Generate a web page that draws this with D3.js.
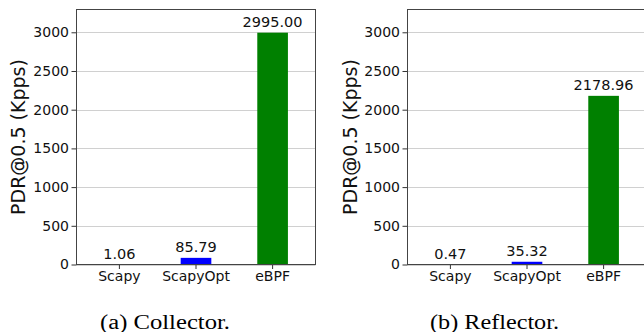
<!DOCTYPE html>
<html>
<head>
<meta charset="utf-8">
<script src="https://cdn.jsdelivr.net/npm/d3@7"></script>
<style>
  html, body { margin: 0; padding: 0; background: #fff; }
  svg { display: block; }
</style>
</head>
<body>
<svg id="chart" width="644" height="332"></svg>
<script>
const categories = ["Scapy", "ScapyOpt", "eBPF"];
const collectorValues = [1.06, 85.79, 2995.00];
const reflectorValues = [0.47, 35.32, 2178.96];
const collectorLabels = ["1.06", "85.79", "2995.00"];
const reflectorLabels = ["0.47", "35.32", "2178.96"];
const barColors = ["#0000ff", "#0000ff", "#008000"];
const yTicks = [0, 500, 1000, 1500, 2000, 2500, 3000];
const yMax = 3294.5;
const yLabel = "PDR@0.5 (Kpps)";
const captions = ["(a) Collector.", "(b) Reflector."];

(function () {
const svg = d3.select("#chart");
const FONT = "DejaVu Sans, sans-serif";

const panels = [
  { values: collectorValues, labels: collectorLabels, x0: 76.5, caption: captions[0], capX: 165, capW: 130, labX: 25 },
  { values: reflectorValues, labels: reflectorLabels, x0: 407.5, caption: captions[1], capX: 494.5, capW: 129, labX: 357 }
];
const W = 239, plotTop = 9.5, plotBottom = 264.5;

panels.forEach(p => {
  const g = svg.append("g");
  const x = d3.scaleBand().domain(categories).range([p.x0, p.x0 + W]).paddingInner(0.6).paddingOuter(0.36);
  const y = d3.scaleLinear().domain([0, yMax]).range([plotBottom, plotTop]);

  // grid
  g.append("g").selectAll("line").data(yTicks).join("line")
    .attr("x1", p.x0).attr("x2", p.x0 + W)
    .attr("y1", d => Math.round(y(d)) + 0.5).attr("y2", d => Math.round(y(d)) + 0.5)
    .attr("stroke", "#d0d0d0").attr("stroke-width", 1);

  // bars
  g.append("g").selectAll("rect").data(p.values).join("rect")
    .attr("x", (d, i) => x(categories[i]))
    .attr("width", x.bandwidth())
    .attr("y", d => y(d))
    .attr("height", d => y(0) - y(d))
    .attr("fill", (d, i) => barColors[i]);

  // bar labels
  g.append("g").selectAll("text").data(p.values).join("text")
    .attr("x", (d, i) => x(categories[i]) + x.bandwidth() / 2)
    .attr("y", d => y(d) - 5.5)
    .attr("text-anchor", "middle")
    .attr("font-family", FONT).attr("font-size", 14.5).attr("fill", "#111")
    .text((d, i) => p.labels[i]);

  // axes
  const yAxis = d3.axisLeft(y).tickValues(yTicks).tickSize(5).tickPadding(2.5).tickFormat(d3.format("d"));
  const ya = g.append("g").attr("transform", `translate(${p.x0},0)`).call(yAxis);
  ya.select(".domain").remove();
  ya.selectAll("text").attr("font-family", FONT).attr("font-size", 14).attr("fill", "#111");
  ya.selectAll("line").attr("stroke", "#333");

  const xAxis = d3.axisBottom(x).tickSize(4.5).tickPadding(2.5);
  const xa = g.append("g").attr("transform", `translate(0,${plotBottom})`).call(xAxis);
  xa.select(".domain").remove();
  xa.selectAll("text").attr("font-family", FONT).attr("font-size", 14).attr("fill", "#111");
  xa.selectAll("line").attr("stroke", "#333");

  // frame
  g.append("rect").attr("x", p.x0).attr("y", plotTop).attr("width", W).attr("height", plotBottom - plotTop)
    .attr("fill", "none").attr("stroke", "#444").attr("stroke-width", 1);

  // y label
  g.append("text")
    .attr("transform", `translate(${p.labX},${(plotTop + plotBottom) / 2}) rotate(-90)`)
    .attr("text-anchor", "middle")
    .attr("font-family", FONT).attr("font-size", 19).attr("fill", "#111")
    .text(yLabel);

  // caption
  svg.append("text")
    .attr("x", p.capX - p.capW / 2).attr("y", 329)
    .attr("textLength", p.capW).attr("lengthAdjust", "spacingAndGlyphs")
    .attr("font-family", "Liberation Serif, Times New Roman, serif").attr("font-size", 20.5).attr("fill", "#000")
    .text(p.caption);
});
})();
</script>
</body>
</html>
